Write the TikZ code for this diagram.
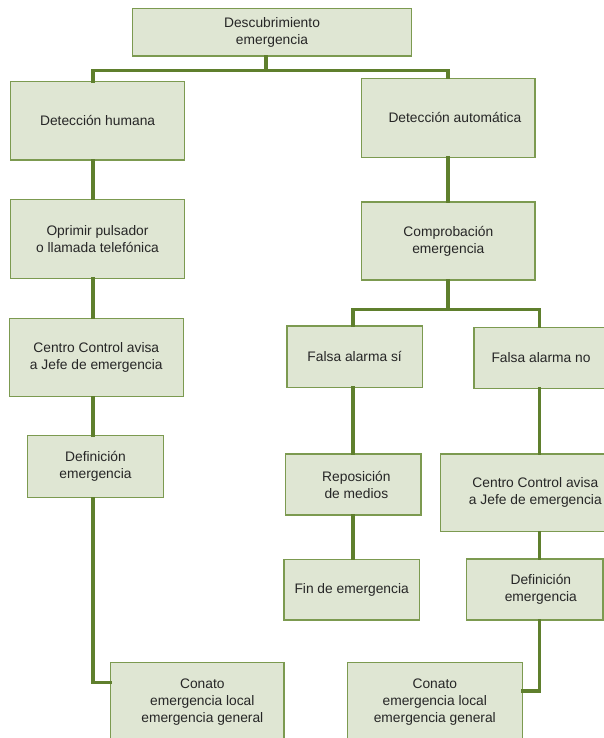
\documentclass[tikz,border=0pt]{standalone}
\usepackage{fontspec}
\setmainfont{Liberation Sans}
\definecolor{boxfill}{HTML}{DFE6D3}
\definecolor{boxline}{HTML}{7C9A50}
\definecolor{conncol}{HTML}{5F7F2D}
\definecolor{txtcol}{HTML}{262626}
\tikzset{
  bx/.style={draw=boxline, line width=1.3pt, fill=boxfill, inner sep=0pt,
    align=center, text=txtcol, font=\fontsize{13.8}{17}\selectfont},
  conn/.style={draw=conncol, line width=3.6pt, line join=miter, line cap=rect}
}
\newcommand{\bxnode}[6]{%
  \node[bx, minimum width={#4-#2}, minimum height={#5-#3}] (#1) at ({(#2+#4)/2},{(#3+#5)/2}) {#6};}
\begin{document}
\begin{tikzpicture}[x=1pt,y=-1pt]
\useasboundingbox (0,0) rectangle (604,738);
\clip (0,0) rectangle (604,738);
% coordinates for connector lines
\coordinate (cL) at (93,0);
\coordinate (cT) at (265.7,0);
\coordinate (cR) at (447.7,0);
\coordinate (cS) at (353,0);
\coordinate (cN) at (539.3,0);
\coordinate (h1) at (0,70.7);
\coordinate (h2) at (0,309.3);
\coordinate (hc1) at (0,682.5);
\coordinate (hc2) at (0,690.7);
% boxes
\bxnode{top}{132.3}{8.3}{411.7}{56}{Descubrimiento\\emergencia}
\bxnode{dh}{10.7}{81.7}{184.5}{160}{Detección humana}
\bxnode{da}{361.7}{78.3}{535}{157.3}{\hspace*{13pt}Detección automática}
\bxnode{op}{10.7}{199.3}{184.3}{278.3}{Oprimir pulsador\\o llamada telefónica}
\bxnode{cl}{9.3}{318.3}{183.3}{396.7}{Centro Control avisa\\a Jefe de emergencia}
\bxnode{dfl}{27.7}{435.7}{163.3}{497.7}{Definición\\emergencia}
\bxnode{col}{110.7}{662.7}{284}{741}{\hspace*{10pt}Conato\\\hspace*{10pt}emergencia local\\\hspace*{10pt}emergencia general}
\bxnode{cp}{361.7}{202}{535}{280}{Comprobación\\emergencia}
\bxnode{fs}{287}{326}{422.3}{387.3}{Falsa alarma sí}
\bxnode{fn}{474}{327.3}{608}{388.3}{Falsa alarma no}
\bxnode{rp}{285.7}{454}{421}{515}{\hspace*{6pt}Reposición\\\hspace*{6pt}de medios}
\bxnode{cr}{440.7}{454}{630}{531.7}{Centro Control avisa\\a Jefe de emergencia}
\bxnode{dfr}{466.7}{559}{603}{620}{\hspace*{12pt}Definición\\\hspace*{12pt}emergencia}
\bxnode{fe}{284}{559.3}{419.3}{620}{Fin de emergencia}
\bxnode{cor}{347.3}{662.7}{522.3}{741}{Conato\\emergencia local\\emergencia general}
% connectors
\draw[conn] (top.south -| cT) -- (cT |- h1);
\draw[conn] (dh.north -| cL) -- (cL |- h1) -- (cR |- h1) -- (da.north -| cR);
\draw[conn] (dh.south -| cL) -- (op.north -| cL);
\draw[conn] (op.south -| cL) -- (cl.north -| cL);
\draw[conn] (cl.south -| cL) -- (dfl.north -| cL);
\draw[conn] (dfl.south -| cL) -- (cL |- hc1) -- (col.west |- hc1);
\draw[conn] (da.south -| cR) -- (cp.north -| cR);
\draw[conn] (cp.south -| cR) -- (cR |- h2);
\draw[conn] (fs.north -| cS) -- (cS |- h2) -- (cN |- h2) -- (fn.north -| cN);
\draw[conn] (fs.south -| cS) -- (rp.north -| cS);
\draw[conn] (rp.south -| cS) -- (fe.north -| cS);
\draw[conn] (fn.south -| cN) -- (cr.north -| cN);
\draw[conn] (cr.south -| cN) -- (dfr.north -| cN);
\draw[conn] (dfr.south -| cN) -- (cN |- hc2) -- (cor.east |- hc2);
\end{tikzpicture}
\end{document}
